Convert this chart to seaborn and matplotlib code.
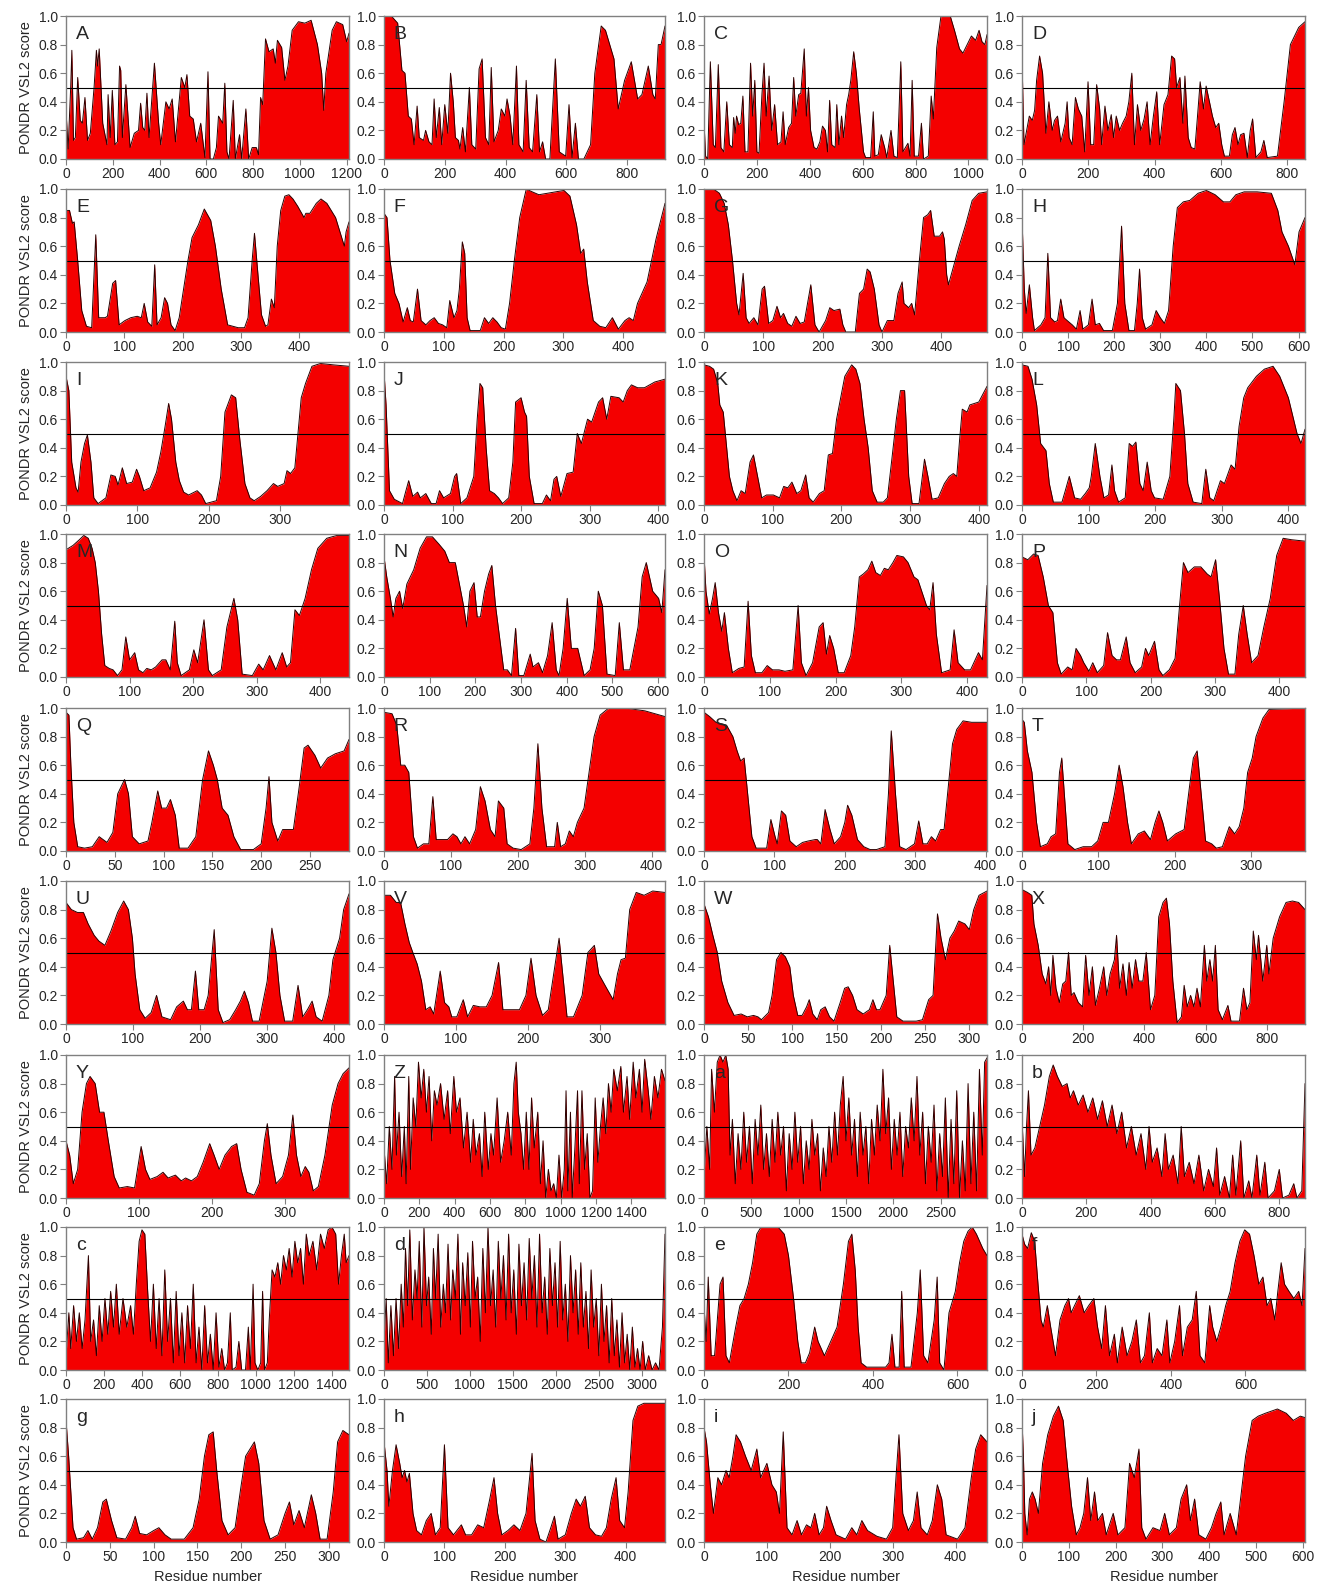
import numpy as np
import pandas as pd
import matplotlib
matplotlib.use("Agg")
import matplotlib.pyplot as plt
from matplotlib.ticker import MultipleLocator, FormatStrFormatter
import seaborn as sns

# -----------------------------
# PONDR VSL2 profiles, (residue, score)
# -----------------------------
prof_A = [(0,0.34),(9,0.07),(20,0.5),(25,0.76),(32,0.13),(40,0.15),(50,0.57),(61,0.27),(70,0.25),(81,0.43),(92,0.13),(104,0.18),(120,0.5),(130,0.76),(135,0.65),(142,0.77),(157,0.25),(175,0.10),(180,0.45),(189,0.15),(198,0.48),(209,0.1),(220,0.12),(229,0.65),(234,0.62),(241,0.15),(256,0.52),(274,0.08),(292,0.18),(310,0.2),(319,0.39),(328,0.22),(337,0.2),(346,0.46),(355,0.15),(378,0.67),(396,0.25),(405,0.1),(427,0.4),(441,0.35),(454,0.42),(468,0.12),(493,0.57),(508,0.5),(517,0.59),(529,0.3),(544,0.28),(558,0.12),(576,0.25),(594,0.01),(607,0.61),(616,0.0),(630,0.0),(643,0.08),(652,0.3),(670,0.25),(679,0.53),(688,0.05),(697,0.0),(715,0.41),(724,0.0),(742,0.17),(751,0.0),(769,0.35),(781,0.0),(796,0.08),(814,0.08),(823,0.03),(832,0.43),(841,0.38),(853,0.84),(868,0.75),(886,0.77),(895,0.67),(904,0.83),(922,0.78),(936,0.55),(949,0.65),(967,0.9),(994,0.96),(1021,0.95),(1048,0.97),(1075,0.8),(1093,0.6),(1102,0.34),(1111,0.6),(1138,0.9),(1156,0.96),(1183,0.94),(1200,0.82),(1210,0.88)]
prof_B = [(0,1.0),(24,1.0),(45,0.95),(59,0.62),(69,0.6),(80,0.3),(90,0.28),(99,0.1),(109,0.37),(116,0.15),(130,0.13),(137,0.2),(148,0.12),(158,0.1),(165,0.42),(172,0.15),(182,0.36),(190,0.1),(200,0.38),(210,0.18),(219,0.6),(228,0.4),(235,0.15),(245,0.13),(250,0.07),(259,0.22),(268,0.05),(281,0.5),(289,0.1),(302,0.07),(313,0.63),(323,0.7),(334,0.15),(345,0.1),(353,0.64),(362,0.12),(376,0.2),(386,0.35),(398,0.3),(405,0.42),(415,0.3),(424,0.1),(436,0.65),(444,0.1),(458,0.05),(468,0.55),(478,0.08),(489,0.05),(503,0.45),(512,0.05),(522,0.12),(532,0.0),(546,0.0),(564,0.7),(577,0.05),(598,0.02),(609,0.38),(619,0.01),(630,0.25),(640,0.0),(658,0.0),(680,0.1),(694,0.6),(715,0.93),(729,0.9),(757,0.7),(771,0.35),(792,0.55),(814,0.68),(835,0.42),(849,0.45),(870,0.65),(885,0.45),(893,0.42),(903,0.8),(912,0.8),(925,0.93)]
prof_C = [(0,0.26),(6,0.02),(14,0.0),(24,0.68),(35,0.1),(43,0.08),(54,0.66),(64,0.08),(75,0.05),(86,0.4),(96,0.1),(107,0.08),(112,0.29),(118,0.18),(123,0.3),(131,0.24),(139,0.25),(147,0.44),(155,0.05),(166,0.05),(176,0.67),(184,0.3),(192,0.55),(200,0.05),(208,0.04),(219,0.45),(227,0.67),(235,0.3),(246,0.58),(256,0.2),(267,0.38),(278,0.1),(291,0.12),(299,0.33),(307,0.1),(320,0.22),(331,0.25),(339,0.57),(347,0.3),(358,0.45),(366,0.46),(379,0.77),(387,0.3),(395,0.5),(403,0.2),(416,0.08),(427,0.07),(438,0.12),(448,0.23),(459,0.2),(467,0.05),(475,0.41),(483,0.1),(496,0.08),(502,0.38),(510,0.1),(520,0.3),(528,0.15),(539,0.38),(547,0.45),(555,0.55),(566,0.75),(576,0.6),(587,0.35),(603,0.05),(611,0.01),(630,0.01),(640,0.33),(646,0.02),(659,0.03),(670,0.17),(683,0.08),(691,0.01),(707,0.2),(718,0.02),(731,0.01),(744,0.68),(752,0.05),(771,0.11),(779,0.02),(787,0.55),(795,0.02),(811,0.02),(822,0.25),(830,0.0),(848,0.02),(859,0.44),(867,0.28),(880,0.78),(896,1.0),(931,1.0),(947,0.9),(966,0.77),(979,0.74),(995,0.8),(1011,0.86),(1027,0.83),(1040,0.9),(1051,0.82),(1062,0.8),(1070,0.87)]
prof_D = [(0,0.7),(6,0.1),(22,0.3),(31,0.27),(38,0.34),(44,0.55),(53,0.72),(62,0.6),(72,0.18),(81,0.4),(91,0.2),(98,0.27),(107,0.3),(117,0.12),(130,0.25),(136,0.4),(142,0.15),(151,0.1),(161,0.43),(170,0.35),(180,0.3),(189,0.05),(199,0.54),(207,0.1),(216,0.1),(225,0.52),(234,0.35),(240,0.1),(250,0.37),(259,0.2),(269,0.31),(276,0.15),(284,0.3),(294,0.2),(303,0.25),(314,0.3),(322,0.4),(331,0.6),(339,0.1),(348,0.38),(358,0.2),(368,0.28),(377,0.4),(386,0.1),(396,0.3),(406,0.47),(415,0.1),(428,0.38),(440,0.45),(451,0.72),(460,0.7),(466,0.5),(476,0.57),(485,0.25),(491,0.58),(501,0.15),(510,0.08),(521,0.07),(529,0.3),(537,0.54),(547,0.35),(555,0.51),(565,0.4),(574,0.3),(584,0.22),(593,0.25),(602,0.1),(610,0.02),(625,0.02),(634,0.17),(642,0.22),(651,0.1),(659,0.17),(669,0.18),(679,0.01),(688,0.2),(695,0.28),(705,0.01),(720,0.05),(729,0.13),(739,0.01),(770,0.02),(790,0.4),(809,0.8),(834,0.92),(853,0.96)]
prof_E = [(0,0.85),(6,0.85),(11,0.76),(14,0.77),(20,0.5),(27,0.15),(35,0.04),(44,0.03),(51,0.68),(56,0.1),(67,0.1),(71,0.11),(80,0.34),(85,0.36),(91,0.05),(101,0.08),(111,0.1),(122,0.11),(129,0.1),(134,0.2),(140,0.07),(147,0.04),(152,0.47),(156,0.05),(163,0.1),(169,0.24),(174,0.2),(180,0.05),(187,0.01),(194,0.1),(209,0.5),(216,0.66),(227,0.75),(237,0.86),(248,0.78),(256,0.6),(266,0.3),(277,0.05),(295,0.03),(306,0.03),(312,0.1),(319,0.5),(323,0.69),(329,0.4),(335,0.12),(342,0.04),(346,0.05),(352,0.23),(357,0.17),(362,0.6),(368,0.85),(375,0.95),(382,0.96),(389,0.93),(397,0.88),(408,0.8),(411,0.83),(418,0.83),(429,0.9),(437,0.93),(447,0.9),(462,0.8),(477,0.6),(480,0.7),(485,0.77)]
prof_F = [(0,0.83),(5,0.8),(10,0.5),(18,0.27),(25,0.2),(32,0.07),(39,0.17),(44,0.08),(49,0.07),(56,0.3),(62,0.08),(70,0.05),(77,0.08),(84,0.1),(91,0.06),(98,0.05),(105,0.03),(110,0.22),(117,0.1),(122,0.15),(126,0.3),(131,0.63),(135,0.55),(139,0.1),(144,0.01),(161,0.01),(168,0.1),(175,0.06),(182,0.1),(189,0.07),(196,0.03),(203,0.02),(210,0.2),(218,0.5),(227,0.8),(238,1.0),(248,0.98),(259,0.96),(273,0.97),(287,0.98),(301,0.99),(311,0.95),(322,0.75),(329,0.55),(334,0.58),(340,0.35),(350,0.08),(361,0.04),(371,0.03),(382,0.1),(392,0.02),(403,0.08),(410,0.1),(417,0.08),(424,0.2),(440,0.35),(455,0.65),(470,0.9)]
prof_G = [(0,1.0),(16,1.0),(26,0.97),(34,0.9),(41,0.75),(48,0.5),(55,0.2),(59,0.12),(66,0.41),(71,0.1),(76,0.06),(84,0.1),(91,0.05),(98,0.3),(102,0.32),(109,0.06),(116,0.08),(123,0.18),(129,0.1),(134,0.13),(141,0.06),(148,0.04),(155,0.11),(162,0.06),(169,0.07),(180,0.33),(187,0.05),(194,0.0),(205,0.08),(212,0.17),(219,0.15),(229,0.16),(234,0.05),(239,0.0),(255,0.0),(262,0.27),(269,0.3),(275,0.44),(280,0.42),(287,0.3),(295,0.05),(300,0.0),(309,0.08),(320,0.08),(327,0.27),(334,0.35),(337,0.2),(345,0.17),(350,0.2),(355,0.12),(363,0.5),(370,0.8),(377,0.82),(382,0.85),(388,0.67),(397,0.67),(402,0.7),(405,0.65),(409,0.4),(412,0.33),(420,0.45),(430,0.6),(441,0.75),(452,0.92),(463,0.97),(477,0.98)]
prof_H = [(0,0.8),(5,0.3),(9,0.13),(16,0.33),(23,0.1),(27,0.01),(41,0.05),(50,0.1),(56,0.55),(62,0.1),(71,0.07),(77,0.08),(84,0.23),(91,0.1),(98,0.08),(109,0.05),(118,0.02),(126,0.15),(132,0.02),(144,0.05),(152,0.23),(159,0.05),(168,0.06),(177,0.01),(196,0.01),(207,0.2),(216,0.74),(223,0.2),(232,0.01),(244,0.01),(250,0.2),(255,0.44),(261,0.1),(268,0.02),(282,0.05),(291,0.15),(300,0.1),(309,0.06),(318,0.15),(328,0.6),(337,0.87),(350,0.91),(364,0.92),(382,0.97),(400,0.99),(419,0.96),(437,0.91),(451,0.91),(464,0.96),(482,0.98),(510,0.98),(541,0.97),(555,0.85),(564,0.7),(578,0.6),(592,0.47),(601,0.7),(614,0.8)]
prof_I = [(0,0.9),(4,0.8),(8,0.3),(14,0.12),(17,0.09),(21,0.3),(26,0.43),(30,0.49),(35,0.3),(39,0.05),(45,0.01),(56,0.05),(63,0.21),(69,0.2),(73,0.14),(79,0.26),(85,0.15),(93,0.16),(99,0.25),(103,0.2),(109,0.1),(118,0.12),(127,0.23),(133,0.37),(139,0.55),(144,0.71),(148,0.6),(154,0.3),(159,0.17),(165,0.09),(172,0.07),(184,0.1),(190,0.07),(196,0.01),(211,0.03),(217,0.2),(223,0.65),(232,0.77),(238,0.75),(244,0.45),(251,0.15),(258,0.05),(264,0.03),(273,0.06),(282,0.1),(291,0.15),(297,0.13),(306,0.15),(310,0.24),(315,0.22),(321,0.26),(330,0.75),(336,0.85),(345,0.97),(357,0.99),(375,0.98),(397,0.97)]
prof_J = [(0,0.93),(3,0.7),(8,0.1),(15,0.04),(27,0.01),(32,0.1),(36,0.17),(42,0.06),(49,0.09),(53,0.05),(61,0.08),(69,0.01),(76,0.01),(81,0.1),(87,0.05),(97,0.08),(103,0.2),(106,0.22),(112,0.01),(121,0.05),(131,0.2),(136,0.6),(140,0.85),(144,0.82),(149,0.4),(154,0.1),(161,0.08),(167,0.05),(173,0.01),(182,0.05),(188,0.3),(192,0.72),(200,0.75),(205,0.65),(208,0.62),(212,0.2),(219,0.01),(231,0.01),(237,0.07),(243,0.03),(248,0.18),(252,0.2),(258,0.06),(267,0.22),(276,0.23),(282,0.5),(288,0.43),(297,0.6),(303,0.58),(313,0.72),(319,0.75),(325,0.6),(331,0.76),(343,0.75),(349,0.72),(355,0.8),(361,0.84),(370,0.82),(380,0.82),(395,0.86),(410,0.88)]
prof_K = [(0,0.98),(8,0.97),(14,0.95),(20,0.85),(23,0.7),(28,0.65),(33,0.4),(37,0.2),(42,0.1),(48,0.03),(54,0.1),(60,0.08),(67,0.3),(72,0.35),(78,0.2),(84,0.05),(91,0.07),(101,0.07),(110,0.05),(116,0.13),(122,0.12),(128,0.16),(135,0.08),(141,0.1),(148,0.21),(153,0.05),(159,0.02),(168,0.08),(175,0.1),(181,0.35),(187,0.36),(193,0.6),(199,0.75),(205,0.9),(215,0.98),(221,0.95),(227,0.85),(233,0.6),(239,0.4),(245,0.1),(252,0.02),(261,0.02),(267,0.05),(273,0.3),(280,0.6),(286,0.8),(292,0.8),(298,0.2),(303,0.01),(313,0.01),(321,0.32),(326,0.2),(332,0.04),(341,0.05),(350,0.15),(357,0.2),(363,0.22),(368,0.2),(372,0.45),(376,0.67),(383,0.65),(387,0.7),(400,0.72),(412,0.83)]
prof_L = [(0,0.98),(9,0.97),(15,0.88),(22,0.7),(28,0.43),(36,0.38),(41,0.15),(47,0.02),(60,0.02),(65,0.1),(71,0.2),(79,0.05),(88,0.04),(95,0.08),(101,0.12),(104,0.2),(110,0.43),(117,0.2),(123,0.05),(130,0.07),(135,0.28),(139,0.1),(145,0.02),(155,0.05),(161,0.43),(166,0.41),(171,0.44),(177,0.15),(182,0.1),(188,0.3),(194,0.1),(199,0.05),(212,0.04),(222,0.2),(228,0.6),(231,0.85),(238,0.8),(244,0.5),(249,0.15),(257,0.02),(270,0.01),(276,0.25),(282,0.05),(288,0.03),(298,0.17),(304,0.15),(314,0.28),(320,0.25),(326,0.55),(333,0.75),(339,0.82),(352,0.9),(364,0.95),(377,0.97),(387,0.9),(400,0.75),(413,0.5),(419,0.43),(425,0.53)]
prof_M = [(0,0.89),(11,0.92),(21,0.96),(28,0.99),(35,0.97),(41,0.9),(46,0.8),(51,0.6),(56,0.3),(61,0.08),(68,0.06),(74,0.05),(81,0.01),(88,0.05),(94,0.28),(100,0.12),(108,0.17),(114,0.05),(121,0.03),(127,0.06),(134,0.05),(141,0.07),(151,0.12),(157,0.12),(164,0.05),(171,0.39),(175,0.1),(181,0.01),(194,0.05),(201,0.19),(207,0.1),(217,0.4),(224,0.05),(230,0.01),(244,0.05),(253,0.35),(264,0.55),(270,0.4),(277,0.02),(293,0.01),(303,0.09),(310,0.05),(320,0.15),(330,0.05),(340,0.17),(347,0.07),(353,0.1),(360,0.47),(367,0.43),(376,0.55),(386,0.75),(396,0.9),(410,0.97),(426,0.99),(445,0.99)]
prof_N = [(0,0.84),(6,0.7),(14,0.55),(20,0.42),(26,0.55),(34,0.6),(41,0.48),(50,0.65),(65,0.75),(79,0.9),(93,0.98),(106,0.98),(120,0.93),(133,0.88),(143,0.8),(156,0.8),(165,0.65),(174,0.5),(181,0.35),(188,0.6),(197,0.66),(204,0.42),(211,0.42),(220,0.6),(229,0.72),(236,0.78),(244,0.5),(252,0.3),(262,0.05),(270,0.05),(279,0.01),(288,0.34),(295,0.01),(306,0.01),(320,0.16),(326,0.07),(338,0.1),(347,0.03),(358,0.15),(368,0.38),(377,0.05),(383,0.01),(392,0.2),(401,0.55),(410,0.2),(424,0.2),(438,0.01),(451,0.05),(460,0.2),(469,0.6),(478,0.5),(488,0.02),(506,0.01),(515,0.38),(524,0.05),(538,0.05),(547,0.2),(556,0.35),(565,0.7),(574,0.8),(588,0.6),(601,0.55),(608,0.45),(615,0.75)]
prof_O = [(0,0.85),(3,0.6),(8,0.44),(13,0.55),(17,0.66),(22,0.45),(27,0.32),(31,0.45),(37,0.2),(43,0.03),(53,0.06),(61,0.07),(67,0.53),(72,0.15),(78,0.03),(88,0.03),(96,0.08),(104,0.05),(114,0.05),(123,0.04),(135,0.05),(143,0.5),(148,0.1),(155,0.01),(165,0.1),(175,0.35),(181,0.38),(186,0.16),(191,0.29),(197,0.2),(204,0.03),(213,0.03),(223,0.15),(229,0.35),(236,0.7),(242,0.72),(249,0.75),(255,0.81),(261,0.73),(268,0.71),(274,0.76),(280,0.75),(287,0.8),(293,0.85),(303,0.84),(310,0.8),(319,0.7),(325,0.68),(338,0.5),(343,0.47),(348,0.66),(353,0.3),(361,0.03),(374,0.05),(380,0.33),(386,0.1),(396,0.05),(405,0.05),(417,0.17),(423,0.12),(430,0.64)]
prof_P = [(0,0.84),(9,0.82),(18,0.86),(25,0.85),(33,0.7),(41,0.5),(48,0.45),(55,0.1),(61,0.02),(71,0.07),(78,0.05),(84,0.2),(91,0.15),(96,0.1),(104,0.04),(110,0.1),(117,0.03),(127,0.08),(133,0.31),(140,0.15),(147,0.12),(153,0.12),(162,0.28),(168,0.1),(176,0.03),(186,0.07),(192,0.2),(197,0.15),(206,0.25),(213,0.05),(219,0.01),(229,0.05),(238,0.13),(245,0.5),(251,0.8),(258,0.73),(268,0.77),(278,0.77),(288,0.72),(294,0.7),(301,0.82),(307,0.55),(314,0.2),(321,0.02),(331,0.02),(337,0.3),(344,0.5),(350,0.3),(357,0.1),(367,0.15),(376,0.35),(386,0.55),(396,0.85),(406,0.97),(419,0.96),(440,0.95)]
prof_Q = [(0,0.97),(3,0.95),(5,0.6),(8,0.2),(12,0.03),(19,0.02),(27,0.03),(34,0.1),(38,0.08),(42,0.06),(48,0.13),(53,0.4),(60,0.5),(64,0.4),(68,0.1),(75,0.05),(84,0.07),(88,0.2),(94,0.42),(98,0.3),(103,0.3),(107,0.36),(112,0.25),(116,0.02),(125,0.02),(133,0.1),(140,0.5),(146,0.7),(151,0.6),(155,0.5),(160,0.3),(166,0.25),(172,0.1),(179,0.01),(192,0.01),(200,0.05),(205,0.3),(208,0.52),(211,0.2),(217,0.07),(222,0.15),(226,0.15),(233,0.15),(239,0.45),(244,0.72),(248,0.74),(255,0.67),(261,0.58),(268,0.65),(276,0.68),(285,0.7),(290,0.78)]
prof_R = [(0,0.97),(12,0.96),(19,0.88),(25,0.6),(31,0.6),(37,0.55),(44,0.1),(50,0.02),(59,0.05),(67,0.05),(73,0.38),(78,0.08),(87,0.08),(95,0.08),(103,0.12),(109,0.1),(115,0.05),(121,0.1),(128,0.05),(137,0.15),(144,0.45),(151,0.35),(159,0.15),(166,0.1),(171,0.35),(179,0.3),(184,0.05),(193,0.02),(205,0.01),(218,0.05),(224,0.3),(230,0.75),(236,0.3),(243,0.03),(255,0.03),(259,0.2),(264,0.03),(271,0.05),(277,0.14),(283,0.1),(289,0.2),(299,0.3),(305,0.5),(314,0.8),(323,0.95),(336,1.0),(360,1.0),(390,0.98),(420,0.94)]
prof_S = [(0,0.97),(8,0.94),(17,0.9),(32,0.88),(41,0.8),(47,0.7),(52,0.63),(57,0.65),(62,0.4),(68,0.1),(74,0.02),(89,0.02),(95,0.22),(101,0.1),(104,0.05),(110,0.28),(116,0.25),(122,0.07),(131,0.03),(140,0.06),(148,0.07),(158,0.08),(161,0.08),(166,0.05),(172,0.29),(179,0.15),(185,0.05),(194,0.1),(200,0.2),(204,0.32),(210,0.25),(218,0.08),(227,0.03),(236,0.01),(245,0.01),(257,0.03),(262,0.4),(266,0.84),(272,0.4),(278,0.03),(287,0.01),(299,0.05),(305,0.21),(311,0.05),(317,0.05),(323,0.1),(329,0.07),(336,0.15),(341,0.15),(347,0.45),(353,0.75),(359,0.85),(368,0.91),(380,0.9),(402,0.9)]
prof_T = [(0,0.92),(3,0.9),(7,0.7),(11,0.6),(13,0.55),(19,0.2),(24,0.03),(33,0.05),(38,0.1),(44,0.12),(49,0.55),(52,0.65),(56,0.35),(60,0.05),(69,0.01),(80,0.03),(91,0.03),(99,0.07),(106,0.2),(113,0.2),(121,0.4),(127,0.6),(132,0.45),(138,0.2),(143,0.05),(152,0.12),(160,0.14),(168,0.08),(174,0.2),(179,0.28),(184,0.2),(190,0.07),(201,0.12),(212,0.15),(219,0.45),(224,0.65),(229,0.7),(236,0.3),(240,0.07),(248,0.05),(254,0.02),(262,0.03),(271,0.17),(278,0.12),(284,0.17),(290,0.3),(295,0.55),(301,0.65),(306,0.8),(315,0.93),(323,0.99),(370,1.0)]
prof_U = [(0,0.85),(8,0.8),(17,0.78),(26,0.78),(33,0.7),(42,0.62),(49,0.58),(58,0.55),(67,0.65),(77,0.78),(86,0.86),(93,0.8),(99,0.6),(103,0.35),(110,0.1),(118,0.04),(127,0.08),(135,0.2),(143,0.05),(156,0.03),(165,0.12),(175,0.16),(181,0.1),(187,0.1),(193,0.37),(198,0.1),(206,0.1),(212,0.2),(221,0.66),(227,0.1),(234,0.01),(244,0.03),(253,0.1),(260,0.16),(266,0.23),(272,0.15),(278,0.02),(288,0.02),(300,0.3),(307,0.67),(313,0.5),(319,0.2),(326,0.02),(338,0.02),(346,0.27),(353,0.05),(360,0.1),(367,0.16),(373,0.05),(382,0.02),(392,0.2),(398,0.45),(408,0.6),(414,0.8),(422,0.91)]
prof_V = [(0,0.9),(9,0.9),(17,0.85),(23,0.85),(29,0.7),(35,0.57),(40,0.5),(46,0.42),(52,0.3),(58,0.1),(64,0.12),(69,0.07),(78,0.37),(84,0.15),(90,0.12),(94,0.05),(101,0.05),(110,0.17),(116,0.05),(124,0.13),(133,0.12),(142,0.12),(150,0.2),(159,0.43),(165,0.1),(176,0.1),(188,0.1),(197,0.2),(204,0.46),(211,0.2),(220,0.06),(228,0.1),(237,0.4),(243,0.6),(249,0.3),(254,0.05),(263,0.05),(275,0.2),(283,0.5),(292,0.55),(298,0.35),(309,0.25),(318,0.17),(324,0.35),(329,0.45),(335,0.46),(341,0.8),(350,0.92),(361,0.9),(373,0.93),(390,0.92)]
prof_W = [(0,0.84),(5,0.75),(10,0.62),(15,0.5),(20,0.3),(27,0.15),(34,0.06),(42,0.07),(49,0.05),(56,0.06),(61,0.05),(65,0.03),(73,0.08),(77,0.2),(82,0.45),(87,0.5),(92,0.47),(97,0.4),(101,0.2),(106,0.06),(111,0.06),(116,0.12),(119,0.17),(123,0.07),(128,0.03),(132,0.1),(137,0.12),(142,0.05),(147,0.02),(154,0.15),(159,0.25),(163,0.26),(168,0.2),(173,0.1),(180,0.07),(187,0.1),(191,0.17),(195,0.1),(199,0.1),(206,0.2),(210,0.55),(214,0.3),(218,0.05),(225,0.02),(240,0.02),(247,0.03),(254,0.17),(259,0.2),(264,0.77),(268,0.6),(273,0.45),(278,0.6),(283,0.65),(288,0.72),(295,0.7),(300,0.66),(305,0.8),(311,0.9),(320,0.93)]
prof_X = [(0,0.94),(18,0.92),(32,0.9),(39,0.7),(53,0.55),(66,0.35),(78,0.28),(87,0.4),(94,0.2),(101,0.48),(111,0.25),(122,0.15),(133,0.28),(143,0.3),(152,0.5),(161,0.2),(170,0.22),(184,0.15),(198,0.12),(208,0.48),(219,0.2),(230,0.4),(240,0.13),(253,0.25),(267,0.4),(277,0.2),(288,0.35),(302,0.45),(309,0.62),(319,0.25),(330,0.42),(341,0.2),(350,0.43),(360,0.25),(371,0.45),(382,0.3),(395,0.3),(406,0.5),(420,0.1),(434,0.2),(447,0.75),(461,0.85),(472,0.88),(482,0.7),(493,0.3),(507,0.01),(521,0.05),(530,0.27),(540,0.12),(551,0.2),(562,0.12),(572,0.25),(583,0.12),(596,0.55),(604,0.3),(614,0.45),(623,0.3),(632,0.55),(641,0.1),(655,0.03),(673,0.13),(683,0.02),(711,0.02),(724,0.25),(735,0.1),(745,0.15),(756,0.65),(766,0.45),(773,0.62),(787,0.3),(800,0.55),(807,0.35),(821,0.6),(842,0.75),(863,0.85),(884,0.86),(904,0.85),(925,0.8)]
prof_Y = [(0,0.4),(5,0.3),(10,0.1),(16,0.2),(22,0.6),(28,0.8),(33,0.85),(40,0.8),(46,0.6),(52,0.6),(58,0.4),(66,0.15),(73,0.07),(84,0.08),(94,0.07),(98,0.2),(103,0.36),(109,0.2),(115,0.13),(125,0.15),(133,0.18),(140,0.14),(150,0.16),(158,0.12),(164,0.14),(172,0.12),(180,0.15),(188,0.25),(197,0.38),(203,0.3),(210,0.2),(218,0.3),(227,0.36),(234,0.38),(240,0.2),(248,0.04),(258,0.02),(265,0.1),(272,0.4),(276,0.52),(281,0.3),(288,0.1),(297,0.15),(305,0.3),(311,0.58),(316,0.3),(322,0.15),(328,0.22),(333,0.18),(339,0.05),(346,0.08),(355,0.3),(365,0.65),(373,0.8),(380,0.87),(388,0.91)]
prof_Z = [(0,0.35),(15,0.1),(30,0.5),(45,0.2),(60,0.85),(70,0.3),(85,0.6),(100,0.15),(115,0.5),(125,0.1),(140,0.85),(150,0.2),(165,0.7),(180,0.5),(195,0.95),(210,0.7),(225,0.9),(240,0.6),(255,0.85),(270,0.4),(285,0.75),(300,0.65),(320,0.8),(340,0.55),(360,0.75),(375,0.45),(395,0.85),(410,0.6),(430,0.7),(450,0.35),(470,0.6),(490,0.25),(505,0.55),(520,0.3),(540,0.45),(555,0.15),(570,0.6),(590,0.2),(605,0.45),(620,0.3),(640,0.7),(660,0.25),(680,0.4),(700,0.6),(720,0.3),(735,0.8),(748,0.95),(760,0.6),(775,0.45),(790,0.2),(805,0.6),(820,0.2),(835,0.7),(850,0.35),(870,0.6),(885,0.1),(900,0.4),(915,0.0),(930,0.2),(945,0.05),(960,0.1),(975,0.0),(990,0.3),(1005,0.0),(1020,0.2),(1030,0.75),(1040,0.05),(1055,0.6),(1065,0.0),(1080,0.35),(1095,0.75),(1105,0.1),(1120,0.75),(1135,0.2),(1150,0.45),(1165,0.0),(1180,0.05),(1195,0.7),(1210,0.25),(1225,0.5),(1240,0.7),(1255,0.45),(1270,0.8),(1285,0.6),(1300,0.9),(1320,0.75),(1340,0.92),(1355,0.6),(1375,0.85),(1390,0.55),(1410,0.95),(1425,0.7),(1445,0.9),(1460,0.6),(1475,0.97),(1495,0.75),(1510,0.55),(1530,0.85),(1550,0.7),(1570,0.9),(1590,0.82)]
prof_a = [(0,0.15),(30,0.5),(60,0.2),(80,0.9),(110,0.6),(140,0.95),(170,1.0),(200,0.95),(230,1.0),(255,0.9),(275,0.3),(300,0.55),(330,0.1),(360,0.45),(390,0.2),(420,0.6),(450,0.25),(480,0.5),(510,0.1),(540,0.55),(570,0.3),(600,0.65),(630,0.2),(660,0.45),(690,0.15),(720,0.55),(750,0.25),(780,0.6),(810,0.3),(840,0.5),(870,0.05),(900,0.45),(930,0.2),(960,0.6),(990,0.25),(1020,0.5),(1050,0.1),(1080,0.4),(1110,0.2),(1140,0.55),(1170,0.3),(1200,0.45),(1230,0.05),(1260,0.35),(1290,0.15),(1320,0.5),(1350,0.25),(1380,0.6),(1410,0.3),(1440,0.65),(1470,0.85),(1500,0.4),(1530,0.7),(1560,0.3),(1590,0.55),(1620,0.15),(1650,0.6),(1680,0.3),(1710,0.5),(1740,0.1),(1770,0.55),(1800,0.3),(1830,0.65),(1860,0.4),(1890,0.9),(1920,0.45),(1950,0.7),(1980,0.2),(2010,0.55),(2040,0.3),(2070,0.6),(2100,0.15),(2130,0.5),(2160,0.35),(2190,0.7),(2220,0.4),(2250,0.85),(2280,0.3),(2310,0.6),(2340,0.1),(2370,0.5),(2400,0.25),(2430,0.65),(2460,0.05),(2490,0.45),(2520,0.15),(2550,0.7),(2580,0.0),(2610,0.55),(2640,0.1),(2670,0.75),(2700,0.0),(2730,0.4),(2760,0.05),(2790,0.8),(2820,0.1),(2850,0.6),(2880,0.05),(2910,0.9),(2940,0.3),(2965,0.95),(2990,0.98)]
prof_b = [(0,0.55),(8,0.15),(14,0.5),(20,0.75),(28,0.3),(40,0.35),(55,0.5),(70,0.65),(85,0.85),(97,0.93),(110,0.85),(125,0.78),(140,0.8),(150,0.7),(160,0.75),(175,0.65),(190,0.72),(205,0.6),(220,0.7),(235,0.55),(250,0.68),(265,0.5),(280,0.65),(295,0.45),(310,0.6),(325,0.35),(340,0.5),(355,0.3),(370,0.45),(385,0.2),(395,0.5),(405,0.25),(420,0.35),(435,0.15),(445,0.45),(455,0.2),(470,0.3),(485,0.1),(495,0.5),(505,0.15),(520,0.25),(535,0.1),(550,0.3),(565,0.05),(580,0.2),(595,0.08),(605,0.35),(615,0.02),(630,0.15),(645,0.0),(655,0.3),(665,0.02),(680,0.4),(690,0.0),(705,0.12),(715,0.0),(730,0.3),(740,0.02),(755,0.25),(765,0.0),(785,0.05),(800,0.2),(810,0.0),(830,0.02),(845,0.1),(855,0.0),(870,0.05),(880,0.8)]
prof_c = [(0,0.1),(15,0.4),(25,0.15),(40,0.45),(55,0.2),(70,0.4),(85,0.15),(100,0.35),(118,0.8),(130,0.2),(145,0.35),(160,0.1),(175,0.45),(190,0.2),(205,0.5),(220,0.25),(235,0.55),(250,0.3),(265,0.6),(280,0.25),(300,0.5),(320,0.3),(340,0.45),(355,0.25),(370,0.6),(385,0.9),(400,0.98),(415,0.95),(430,0.55),(445,0.2),(460,0.6),(475,0.15),(490,0.5),(505,0.1),(520,0.7),(535,0.2),(550,0.5),(565,0.05),(580,0.55),(595,0.1),(610,0.4),(625,0.05),(640,0.45),(655,0.15),(670,0.6),(685,0.05),(700,0.3),(715,0.0),(730,0.45),(745,0.05),(760,0.25),(775,0.0),(790,0.4),(805,0.02),(820,0.15),(835,0.0),(850,0.05),(865,0.4),(875,0.0),(895,0.02),(910,0.2),(925,0.0),(945,0.0),(960,0.3),(970,0.0),(985,0.6),(995,0.05),(1010,0.0),(1025,0.05),(1035,0.55),(1045,0.0),(1060,0.05),(1070,0.35),(1085,0.7),(1100,0.65),(1115,0.75),(1130,0.6),(1145,0.8),(1160,0.7),(1175,0.85),(1190,0.65),(1205,0.9),(1220,0.75),(1235,0.85),(1250,0.6),(1265,0.95),(1280,0.8),(1300,0.9),(1320,0.7),(1340,0.95),(1360,0.85),(1380,0.98),(1400,1.0),(1420,0.95),(1435,0.6),(1450,0.8),(1465,0.95),(1475,0.75),(1490,0.8)]
prof_d = [(0,0.2),(25,0.5),(50,0.05),(80,0.45),(110,0.1),(140,0.5),(170,0.15),(200,0.6),(225,0.3),(250,0.85),(275,0.45),(300,0.98),(330,0.35),(360,0.7),(385,0.5),(410,0.9),(440,0.3),(465,1.0),(495,0.45),(520,0.65),(550,0.25),(575,0.85),(600,0.5),(630,0.95),(660,0.3),(690,0.6),(715,0.4),(745,0.88),(775,0.35),(800,0.7),(830,0.5),(860,0.95),(890,0.25),(915,0.75),(945,0.45),(975,0.82),(1005,0.3),(1030,0.9),(1060,0.5),(1090,0.65),(1120,0.2),(1150,0.85),(1180,0.4),(1210,1.0),(1240,0.45),(1270,0.7),(1300,0.3),(1330,0.9),(1360,0.5),(1390,0.8),(1420,0.35),(1450,0.95),(1480,0.4),(1510,0.7),(1540,0.25),(1570,0.88),(1600,0.45),(1630,0.75),(1660,0.35),(1690,0.92),(1720,0.5),(1750,0.8),(1780,0.3),(1810,0.95),(1840,0.4),(1870,0.65),(1900,0.25),(1930,0.85),(1960,0.45),(1990,0.75),(2020,0.3),(2050,0.9),(2080,0.35),(2110,0.6),(2140,0.2),(2170,0.8),(2200,0.4),(2230,0.7),(2260,0.25),(2290,0.75),(2320,0.3),(2350,0.55),(2380,0.15),(2410,0.7),(2440,0.3),(2470,0.5),(2500,0.1),(2530,0.6),(2560,0.2),(2590,0.45),(2620,0.05),(2650,0.5),(2680,0.1),(2710,0.35),(2740,0.02),(2770,0.4),(2800,0.05),(2830,0.25),(2860,0.0),(2890,0.3),(2920,0.02),(2950,0.15),(2980,0.0),(3010,0.2),(3040,0.0),(3080,0.1),(3120,0.0),(3160,0.05),(3200,0.0),(3240,0.3),(3270,0.95)]
prof_e = [(0,0.45),(5,0.2),(10,0.65),(17,0.1),(25,0.1),(38,0.6),(45,0.65),(52,0.1),(60,0.05),(75,0.3),(85,0.45),(95,0.5),(105,0.6),(115,0.75),(125,0.95),(135,1.0),(175,1.0),(190,0.95),(200,0.8),(212,0.5),(222,0.2),(230,0.05),(240,0.05),(250,0.12),(262,0.3),(270,0.2),(285,0.1),(300,0.2),(315,0.3),(330,0.6),(342,0.9),(350,0.95),(358,0.7),(365,0.3),(372,0.05),(385,0.02),(410,0.02),(430,0.02),(438,0.05),(445,0.25),(452,0.02),(462,0.02),(468,0.55),(474,0.02),(490,0.02),(505,0.4),(512,0.7),(520,0.1),(530,0.05),(545,0.35),(552,0.65),(558,0.05),(568,0.0),(580,0.4),(595,0.55),(605,0.75),(615,0.9),(625,0.97),(635,1.0),(645,0.95),(660,0.85),(670,0.8)]
prof_f = [(0,0.95),(7,0.88),(15,0.85),(25,0.96),(34,0.9),(43,0.6),(51,0.35),(57,0.3),(68,0.45),(77,0.3),(90,0.1),(102,0.35),(115,0.45),(125,0.5),(132,0.4),(141,0.45),(154,0.52),(167,0.4),(179,0.45),(193,0.5),(203,0.3),(214,0.15),(224,0.45),(235,0.1),(248,0.25),(256,0.05),(269,0.3),(282,0.1),(295,0.2),(307,0.35),(318,0.05),(329,0.1),(342,0.4),(350,0.05),(363,0.15),(376,0.1),(389,0.35),(397,0.05),(410,0.2),(423,0.45),(431,0.1),(444,0.3),(457,0.35),(468,0.55),(478,0.1),(491,0.05),(504,0.45),(512,0.3),(523,0.2),(534,0.3),(547,0.45),(559,0.55),(572,0.75),(585,0.9),(598,0.98),(611,0.95),(623,0.8),(636,0.6),(647,0.65),(658,0.45),(668,0.5),(679,0.35),(687,0.55),(696,0.75),(705,0.6),(717,0.55),(730,0.5),(743,0.55),(752,0.45),(760,0.85)]
prof_g = [(0,0.85),(3,0.6),(8,0.1),(12,0.02),(20,0.03),(25,0.08),(30,0.02),(36,0.1),(42,0.28),(46,0.3),(52,0.15),(58,0.03),(68,0.02),(75,0.1),(79,0.18),(84,0.06),(92,0.05),(100,0.08),(106,0.1),(113,0.05),(120,0.02),(135,0.02),(145,0.1),(152,0.3),(158,0.6),(163,0.75),(168,0.77),(172,0.5),(178,0.15),(185,0.05),(193,0.1),(200,0.4),(205,0.6),(210,0.65),(215,0.7),(220,0.55),(226,0.15),(233,0.02),(242,0.05),(250,0.2),(255,0.28),(260,0.12),(266,0.22),(272,0.1),(280,0.33),(285,0.2),(290,0.02),(298,0.02),(305,0.35),(310,0.7),(316,0.78),(323,0.75)]
prof_h = [(0,0.7),(5,0.5),(8,0.25),(14,0.5),(20,0.68),(26,0.55),(30,0.45),(34,0.5),(38,0.42),(42,0.48),(48,0.2),(54,0.08),(62,0.05),(70,0.15),(78,0.2),(85,0.05),(93,0.1),(100,0.68),(106,0.1),(115,0.05),(128,0.12),(135,0.05),(145,0.05),(155,0.12),(165,0.1),(175,0.3),(182,0.45),(188,0.2),(195,0.05),(205,0.08),(215,0.12),(225,0.08),(235,0.2),(245,0.62),(250,0.15),(258,0.02),(268,0.0),(276,0.1),(282,0.18),(288,0.02),(300,0.05),(310,0.2),(318,0.3),(325,0.25),(333,0.32),(340,0.1),(350,0.05),(360,0.04),(368,0.1),(376,0.3),(384,0.45),(390,0.15),(398,0.1),(404,0.35),(412,0.85),(420,0.95),(430,0.97),(465,0.97)]
prof_i = [(0,0.8),(4,0.7),(10,0.4),(15,0.2),(22,0.45),(28,0.4),(35,0.5),(40,0.45),(46,0.6),(51,0.75),(58,0.7),(66,0.6),(75,0.5),(84,0.65),(90,0.45),(100,0.55),(108,0.4),(115,0.35),(120,0.2),(126,0.77),(132,0.1),(140,0.05),(148,0.15),(155,0.05),(163,0.12),(170,0.1),(176,0.2),(183,0.05),(190,0.1),(195,0.25),(202,0.15),(210,0.05),(225,0.02),(235,0.1),(243,0.05),(251,0.15),(260,0.08),(275,0.04),(290,0.02),(300,0.1),(306,0.5),(310,0.75),(316,0.2),(325,0.08),(333,0.15),(339,0.35),(345,0.1),(355,0.05),(363,0.15),(371,0.4),(378,0.3),(385,0.05),(403,0.02),(415,0.1),(425,0.45),(432,0.65),(440,0.75),(450,0.7)]
prof_j = [(0,0.85),(3,0.6),(6,0.2),(11,0.05),(16,0.3),(22,0.35),(28,0.3),(35,0.2),(44,0.55),(55,0.75),(67,0.88),(78,0.95),(88,0.85),(95,0.6),(106,0.25),(116,0.05),(124,0.1),(132,0.2),(140,0.45),(147,0.15),(155,0.35),(162,0.15),(172,0.2),(180,0.05),(195,0.2),(205,0.05),(220,0.1),(230,0.55),(240,0.45),(250,0.65),(256,0.1),(265,0.02),(280,0.1),(295,0.08),(305,0.2),(315,0.05),(330,0.1),(340,0.3),(352,0.4),(360,0.15),(369,0.3),(378,0.05),(393,0.02),(405,0.1),(415,0.2),(425,0.28),(432,0.05),(445,0.2),(458,0.05),(469,0.35),(478,0.6),(492,0.85),(505,0.88),(520,0.9),(546,0.93),(565,0.9),(580,0.85),(595,0.88),(605,0.87)]

panel_letters = list("ABCDEFGHIJKLMNOPQRSTUVWXYZ") + list("abcdefghij")
profiles = [prof_A, prof_B, prof_C, prof_D, prof_E, prof_F, prof_G, prof_H, prof_I,
            prof_J, prof_K, prof_L, prof_M, prof_N, prof_O, prof_P, prof_Q, prof_R,
            prof_S, prof_T, prof_U, prof_V, prof_W, prof_X, prof_Y, prof_Z, prof_a,
            prof_b, prof_c, prof_d, prof_e, prof_f, prof_g, prof_h, prof_i, prof_j]
x_max = [1210, 925, 1070, 853, 485, 470, 477, 614, 397, 410, 412, 425,
         445, 615, 430, 440, 290, 420, 402, 370, 422, 390, 320, 925,
         388, 1590, 2990, 880, 1490, 3270, 670, 760, 323, 465, 450, 605]
x_step = [200, 200, 200, 200, 100, 100, 100, 100, 100, 100, 100, 100,
          100, 100, 100, 100, 50, 100, 100, 100, 100, 100, 50, 200,
          100, 200, 500, 200, 200, 500, 200, 200, 50, 100, 100, 100]

# -----------------------------
# Layout (pixels of a 1317 x 1588 canvas)
# -----------------------------
sns.set_style("ticks")
plt.rcParams["font.family"] = ["Liberation Sans", "DejaVu Sans"]

W, H = 1317, 1588
col_left = [66, 384, 704, 1022]
col_width = [283, 281, 283, 283]
row_top = [16, 189, 362, 534, 708, 881, 1055, 1227, 1399]
ax_h = 143

fig = plt.figure(figsize=(W / 100, H / 100), dpi=100)

for k, (letter, prof) in enumerate(zip(panel_letters, profiles)):
    r, c = divmod(k, 4)
    ax = fig.add_axes([col_left[c] / W, 1 - (row_top[r] + ax_h) / H,
                       col_width[c] / W, ax_h / H])
    df = pd.DataFrame(prof, columns=["residue", "score"])
    ax.fill_between(df["residue"], df["score"], 0, color="#f40000", lw=0)
    sns.lineplot(data=df, x="residue", y="score", ax=ax, color="#2a0000",
                 lw=0.7, sort=False, estimator=None)
    ax.axhline(0.5, color="black", lw=0.8)

    ax.set_xlim(0, x_max[k])
    ax.set_ylim(0, 1)
    ax.xaxis.set_major_locator(MultipleLocator(x_step[k]))
    ax.set_yticks(np.arange(0, 1.01, 0.2))
    ax.yaxis.set_major_formatter(FormatStrFormatter("%.1f"))
    ax.tick_params(direction="out", length=4, width=0.8, color="#808080",
                   labelsize=10, pad=2)
    for sp in ax.spines.values():
        sp.set_color("#808080")
        sp.set_linewidth(1)

    ax.set_xlabel("Residue number" if r == 8 else "", fontsize=10.5)
    ax.set_ylabel("PONDR VSL2 score" if c == 0 else "", fontsize=10.5)
    ax.text(0.035, 0.93, letter, transform=ax.transAxes, fontsize=14,
            va="top", ha="left")

fig.savefig("out.png", dpi=100)
